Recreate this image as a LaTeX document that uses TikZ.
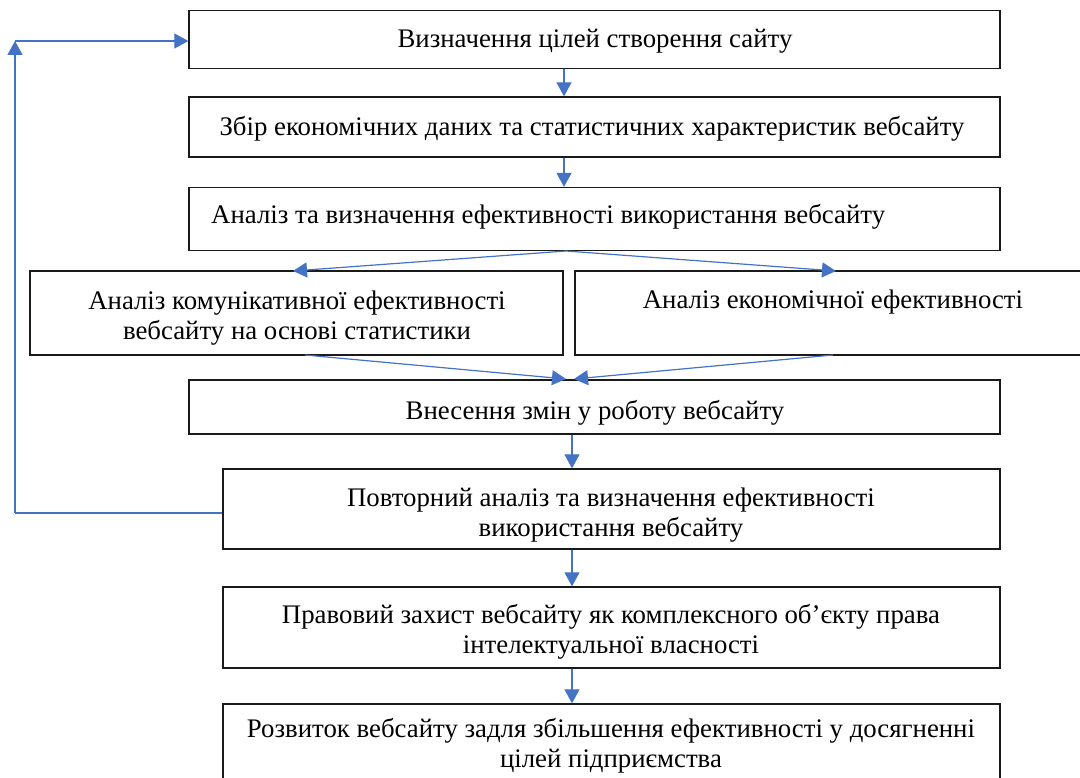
\documentclass[tikz,border=0pt]{standalone}
\usepackage{fontspec}
\setmainfont{Liberation Serif}
\usetikzlibrary{arrows.meta}
\definecolor{conn}{HTML}{4472C4}
\definecolor{boxline}{HTML}{1A1A1A}
\tikzset{
  box/.style={draw=boxline, line width=1.3pt, rectangle, inner sep=0pt},
  txt/.style={inner sep=0pt, align=center, font=\fontsize{26.8}{30}\selectfont},
  link/.style={draw=conn, line width=1.2pt, -{Triangle[length=14pt,width=15pt]}},
  plain/.style={draw=conn, line width=1.2pt}
}
\begin{document}
\begin{tikzpicture}[x=1pt,y=-1pt]
\useasboundingbox (0,0) rectangle (1080,778);
\clip (0,0) rectangle (1080,778);
% boxes
\node[box, minimum width=811pt, minimum height=58pt] (b1) at (594.5,39.5) {};
\node[box, minimum width=811pt, minimum height=60pt] (b2) at (594.5,127) {};
\node[box, minimum width=811pt, minimum height=63pt] (b3) at (594.5,219) {};
\node[box, minimum width=533pt, minimum height=84pt] (b4) at (296.5,313) {};
\node[box, minimum width=520pt, minimum height=84pt] (b5) at (835,313) {};
\node[box, minimum width=811pt, minimum height=54pt] (b6) at (594.5,407) {};
\node[box, minimum width=777pt, minimum height=80pt] (b7) at (611.5,509) {};
\node[box, minimum width=777pt, minimum height=81pt] (b8) at (611.5,627.5) {};
\node[box, minimum width=777pt, minimum height=90pt] (b9) at (611.5,749) {};
% texts
\node[txt] (t1) at (595,41) {Визначення цілей створення сайту};
\node[txt] (t2) at (592,129) {Збір економічних даних та статистичних характеристик вебсайту};
\node[txt, anchor=west] (t3) at (211,217) {Аналіз та визначення ефективності використання вебсайту};
\node[txt] (t4) at (297,318) {Аналіз комунікативної ефективності\\вебсайту на основі статистики};
\node[txt] (t5) at (833,302) {Аналіз економічної ефективності};
\node[txt] (t6) at (595,413) {Внесення змін у роботу вебсайту};
\node[txt] (t7) at (611,515) {Повторний аналіз та визначення ефективності\\використання вебсайту};
\node[txt] (t8) at (611,632) {Правовий захист вебсайту як комплексного об’єкту права\\інтелектуальної власності};
\node[txt] (t9) at (611,746) {Розвиток вебсайту задля збільшення ефективності у досягненні\\цілей підприємства};
% connectors
\draw[link] (b1.south -| 564,0) -- (b2.north -| 564,0);
\draw[link] (b2.south -| 564,0) -- (b3.north -| 564,0);
\coordinate (split) at (566,251);
\coordinate (l4) at (293,271);
\coordinate (r5) at (836,271);
\draw[link] (split) -- (l4);
\draw[link] (split) -- (r5);
\coordinate (s4) at (305,355);
\coordinate (s5) at (833,355);
\coordinate (m4) at (566,379);
\coordinate (m5) at (574,379);
\draw[link] (s4) -- (m4);
\draw[link] (s5) -- (m5);
\draw[link] (b6.south -| 572,0) -- (b7.north -| 572,0);
\draw[link] (b7.south -| 572,0) -- (b8.north -| 572,0);
\draw[link] (b8.south -| 572,0) -- (b9.north -| 572,0);
% feedback
\coordinate (fbl) at (15,513);
\coordinate (fbt) at (15,41);
\draw[plain] (b7.west |- fbl) -- (fbl);
\draw[link] (fbl) -- (fbt);
\draw[link] (fbt) -- (b1.west |- fbt);
\end{tikzpicture}
\end{document}
